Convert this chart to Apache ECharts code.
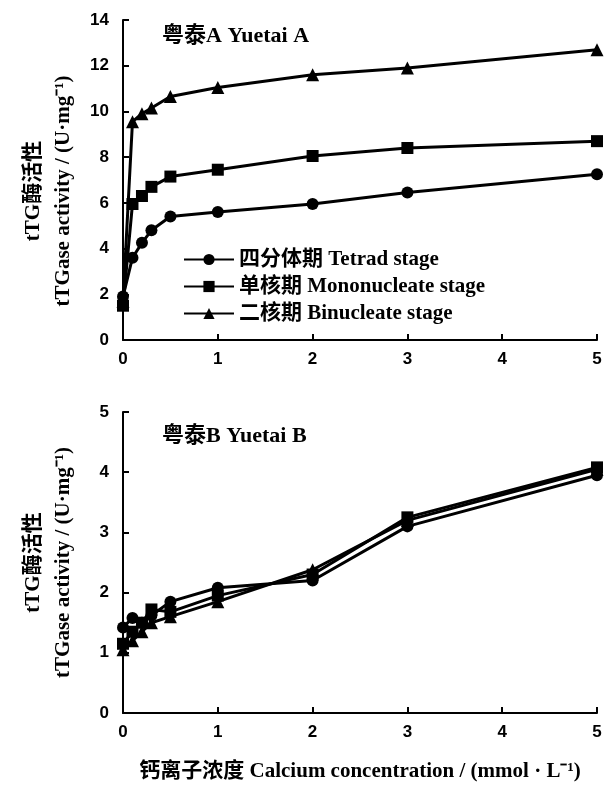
<!DOCTYPE html>
<html>
<head>
<meta charset="utf-8">
<script src="https://cdn.jsdelivr.net/npm/echarts@6/dist/echarts.min.js"></script>
<style>
    html, body { margin: 0; padding: 0; background: #fff; }
    #chart { width: 612px; height: 797px; }
</style>
</head>
<body>
<div id="chart"></div>
<script>
// Ca2+ concentration (mmol/L)
const concentration = [0, 0.1, 0.2, 0.3, 0.5, 1, 2, 3, 5];

// Yuetai A
const tetradA = [1.9, 3.6, 4.25, 4.8, 5.4, 5.6, 5.95, 6.45, 7.25];
const monoA = [1.5, 5.95, 6.3, 6.7, 7.15, 7.45, 8.05, 8.4, 8.7];
const binucA = [1.7, 9.55, 9.9, 10.15, 10.65, 11.05, 11.6, 11.9, 12.7];

// Yuetai B
const tetradB = [1.42, 1.58, 1.5, 1.62, 1.85, 2.08, 2.2, 3.1, 3.95];
const monoB = [1.15, 1.35, 1.5, 1.72, 1.68, 1.95, 2.3, 3.25, 4.08];
const binucB = [1.05, 1.2, 1.35, 1.5, 1.6, 1.85, 2.38, 3.2, 4.05];

const stageNames = ["四分体期 Tetrad stage", "单核期 Mononucleate stage", "二核期 Binucleate stage"];
const stageSymbols = ["circle", "rect", "triangle"];
const panelTitles = ["粤泰A Yuetai A", "粤泰B Yuetai B"];
const yName = "tTG酶活性\ntTGase activity / (U·mg⁻¹)";
const xName = "钙离子浓度 Calcium concentration / (mmol · L⁻¹)";

const serif = "'Liberation Serif', 'Noto Sans CJK SC', serif";
const sans = "'Liberation Sans', Arial, sans-serif";
const black = "#000";

function pairs(values) {
    return concentration.map((c, i) => [c, values[i]]);
}

function xAxisOf(gridIndex, withName) {
    return {
        type: "value",
        gridIndex: gridIndex,
        min: 0, max: 5, interval: 1,
        name: withName ? xName : "",
        nameLocation: "middle",
        nameGap: 48,
        nameTextStyle: { color: black, fontFamily: serif, fontSize: 21, fontWeight: "bold" },
        axisLine: { lineStyle: { color: black, width: 2 } },
        axisTick: { inside: true, length: 6, lineStyle: { color: black, width: 2 } },
        axisLabel: { color: black, fontFamily: sans, fontSize: 17, fontWeight: "bold", margin: 11 },
        splitLine: { show: false },
    };
}

function yAxisOf(gridIndex, max, interval, namePad) {
    return {
        type: "value",
        gridIndex: gridIndex,
        min: 0, max: max, interval: interval,
        name: yName,
        nameLocation: "middle",
        nameRotate: 90,
        nameGap: 44,
        nameTextStyle: {
            color: black, fontFamily: serif, fontSize: 21, fontWeight: "bold", lineHeight: 30,
            padding: [0, namePad, 0, 0],
        },
        axisLine: { lineStyle: { color: black, width: 2 } },
        axisTick: { inside: true, length: 6, lineStyle: { color: black, width: 2 } },
        axisLabel: { color: black, fontFamily: sans, fontSize: 17, fontWeight: "bold", margin: 14 },
        splitLine: { show: false },
    };
}

const panels = [
    [tetradA, monoA, binucA],
    [tetradB, monoB, binucB],
];

const series = [];
panels.forEach((sets, p) => {
    sets.forEach((values, i) => {
        series.push({
            name: stageNames[i],
            type: "line",
            xAxisIndex: p,
            yAxisIndex: p,
            data: pairs(values),
            symbol: stageSymbols[i],
            symbolSize: i === 2 ? 13 : 12,
            color: black,
            lineStyle: { color: black, width: 3 },
            itemStyle: { color: black },
            animation: false,
        });
    });
});

const chart = echarts.init(document.getElementById("chart"), null, { renderer: "canvas" });
chart.setOption({
    backgroundColor: "#fff",
    animation: false,
    title: [
        { text: panelTitles[0], left: 157, top: 20, textStyle: { color: black, fontFamily: serif, fontSize: 22, fontWeight: "bold" } },
        { text: panelTitles[1], left: 157, top: 420, textStyle: { color: black, fontFamily: serif, fontSize: 22, fontWeight: "bold" } },
    ],
    legend: {
        data: stageNames,
        orient: "vertical",
        left: 178,
        top: 244,
        itemWidth: 50,
        itemHeight: 14,
        itemGap: 6,
        textStyle: { color: black, fontFamily: serif, fontSize: 21, fontWeight: "bold", lineHeight: 21 },
    },
    grid: [
        { left: 123, top: 20, width: 474, height: 320 },
        { left: 123, top: 412, width: 474, height: 301 },
    ],
    xAxis: [xAxisOf(0, false), xAxisOf(1, true)],
    yAxis: [yAxisOf(0, 14, 2, 22), yAxisOf(1, 5, 1, 0)],
    series: series,
});
</script>
</body>
</html>
